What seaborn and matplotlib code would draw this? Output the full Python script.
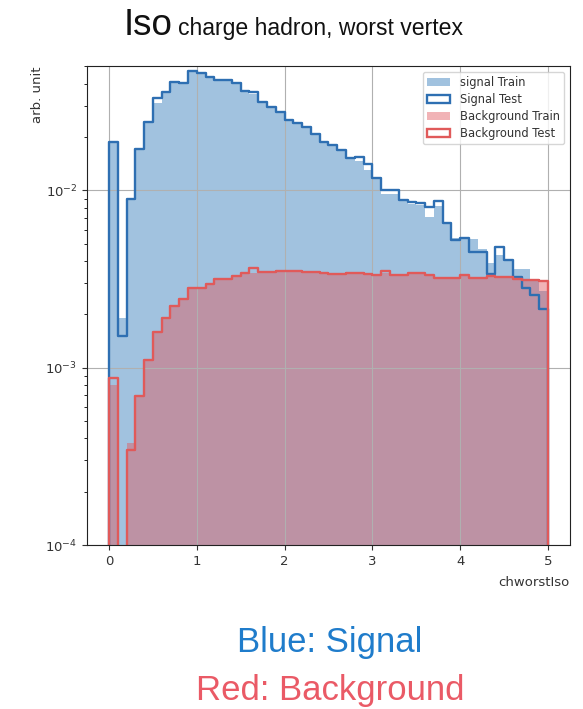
import numpy as np
import pandas as pd
import matplotlib
matplotlib.use("Agg")
import matplotlib.pyplot as plt
import seaborn as sns
from matplotlib.patches import Patch

# ---------------- data (bin heights, bins of width 0.1 from 0 to 5) ----------------
bin_edges = np.linspace(0.0, 5.0, 51)

signal_train = [0.0188, 0.00191, 0.00900, 0.0170, 0.0240, 0.0312, 0.0355, 0.0405, 0.0400, 0.0465,
                0.0455, 0.0432, 0.0420, 0.0412, 0.0398, 0.0362, 0.0350, 0.0318, 0.0294, 0.0276,
                0.0248, 0.0238, 0.0226, 0.0206, 0.0187, 0.0178, 0.0167, 0.0150, 0.0146, 0.0130,
                0.0116, 0.0096, 0.0095, 0.0088, 0.0084, 0.0083, 0.0071, 0.0082, 0.0065, 0.0054,
                0.0053, 0.0053, 0.0047, 0.0039, 0.0043, 0.0040, 0.0036, 0.0036, 0.0031, 0.0027]

signal_test = [0.0188, 0.00151, 0.00896, 0.0171, 0.0244, 0.0331, 0.0360, 0.0407, 0.0402, 0.0473,
               0.0459, 0.0436, 0.0422, 0.0419, 0.0405, 0.0364, 0.0361, 0.0317, 0.0297, 0.0278,
               0.0250, 0.0239, 0.0229, 0.0208, 0.0188, 0.0180, 0.0169, 0.0152, 0.0155, 0.0141,
               0.0117, 0.0101, 0.0101, 0.00884, 0.00865, 0.00850, 0.00810, 0.00876, 0.00653, 0.00526,
               0.00540, 0.00450, 0.00450, 0.00339, 0.00481, 0.00406, 0.00326, 0.00282, 0.00258, 0.00215]

background_train = [0.00080, 0.0, 0.000377, 0.00070, 0.00110, 0.00160, 0.00190, 0.00224, 0.00246, 0.00279,
                    0.00283, 0.00298, 0.00313, 0.00317, 0.00330, 0.00340, 0.00342, 0.00347, 0.00350, 0.00350,
                    0.00353, 0.00350, 0.00347, 0.00347, 0.00343, 0.00341, 0.00338, 0.00340, 0.00340, 0.00338,
                    0.00336, 0.00340, 0.00336, 0.00335, 0.00340, 0.00338, 0.00335, 0.00325, 0.00322, 0.00322,
                    0.00328, 0.00322, 0.00320, 0.00326, 0.00324, 0.00322, 0.00318, 0.00316, 0.00314, 0.00312]

background_test = [0.000875, 0.0, 0.000345, 0.000689, 0.00110, 0.00158, 0.00191, 0.00222, 0.00244, 0.00281,
                   0.00281, 0.00297, 0.00315, 0.00315, 0.00328, 0.00342, 0.00365, 0.00345, 0.00348, 0.00352,
                   0.00352, 0.00352, 0.00345, 0.00348, 0.00344, 0.00339, 0.00339, 0.00342, 0.00342, 0.00339,
                   0.00334, 0.00353, 0.00334, 0.00334, 0.00342, 0.00342, 0.00334, 0.00321, 0.00320, 0.00320,
                   0.00334, 0.00320, 0.00320, 0.00330, 0.00324, 0.00324, 0.00317, 0.00313, 0.00311, 0.00310]

legend_labels = ["signal Train", "Signal Test", "Background Train", "Background Test"]
x_ticks = [0, 1, 2, 3, 4, 5]

# ---------------- styling ----------------
sig_fill = "#2f78b8"
sig_line = "#2e6fb2"
bkg_fill = "#e0585e"
bkg_line = "#e05a5a"
fill_alpha = 0.45

# pad one empty bin on each side so the outlines close down to the axis
width = bin_edges[1] - bin_edges[0]
edges = np.concatenate([[bin_edges[0] - width], bin_edges, [bin_edges[-1] + width]])
centers = 0.5 * (edges[:-1] + edges[1:])
edges_list = [float(e) for e in edges]

def padded(v):
    return np.concatenate([[0.0], np.asarray(v, float), [0.0]])

df = pd.DataFrame({
    "x": centers,
    "signal_train": padded(signal_train),
    "signal_test": padded(signal_test),
    "background_train": padded(background_train),
    "background_test": padded(background_test),
})

fig = plt.figure(figsize=(5.83, 7.09), dpi=100)
ax = fig.add_axes([0.1492, 0.2313, 0.8285, 0.6756])

sns.histplot(data=df, x="x", weights="signal_train", bins=edges_list, element="step",
             fill=True, color=sig_fill, alpha=fill_alpha, linewidth=0, ax=ax)
sns.histplot(data=df, x="x", weights="signal_test", bins=edges_list, element="step",
             fill=False, color=sig_line, linewidth=1.7, ax=ax)
sns.histplot(data=df, x="x", weights="background_train", bins=edges_list, element="step",
             fill=True, color=bkg_fill, alpha=fill_alpha, linewidth=0, ax=ax)
sns.histplot(data=df, x="x", weights="background_test", bins=edges_list, element="step",
             fill=False, color=bkg_line, linewidth=1.7, ax=ax)

ax.set_yscale("log")
ax.set_ylim(1e-4, 0.0503)
ax.set_xlim(-0.25, 5.25)
ax.set_xticks(x_ticks)
ax.grid(True, color="#b0b0b0", linewidth=0.8)
ax.tick_params(labelsize=9.5, colors="#333333", labelcolor="#333333")
for s in ax.spines.values():
    s.set_color("#222222")

ax.set_xlabel("chworstIso", loc="right", fontsize=9.5, color="#333333", labelpad=6)
ax.set_ylabel("arb. unit", loc="top", fontsize=9.5, color="#333333")
ax.yaxis.set_label_coords(-0.09, 1.0)

handles = [
    Patch(facecolor=sig_fill, alpha=fill_alpha, edgecolor="none", label=legend_labels[0]),
    Patch(facecolor="none", edgecolor=sig_line, linewidth=1.7, label=legend_labels[1]),
    Patch(facecolor=bkg_fill, alpha=fill_alpha, edgecolor="none", label=legend_labels[2]),
    Patch(facecolor="none", edgecolor=bkg_line, linewidth=1.7, label=legend_labels[3]),
]
leg = ax.legend(handles=handles, loc="upper right", fontsize=8.3, framealpha=0.8,
                labelspacing=0.33)
for t in leg.get_texts():
    t.set_color("#333333")

# ---------------- title and captions ----------------
title_font = ["Liberation Sans", "DejaVu Sans"]
fig.text(124 / 583, 1 - 35 / 709, "Iso", fontsize=26.5, family=title_font,
         ha="left", va="baseline", color="#111111")
fig.text(178 / 583, 1 - 35.5 / 709, "charge hadron, worst vertex", fontsize=16.6,
         family=title_font, ha="left", va="baseline", color="#111111")

fig.text(330 / 583, 1 - 652 / 709, "Blue: Signal", fontsize=25, family=title_font,
         ha="center", va="baseline", color="#1f7ccb")
fig.text(330 / 583, 1 - 700 / 709, "Red: Background", fontsize=25, family=title_font,
         ha="center", va="baseline", color="#ea5a66")

fig.savefig("out.png", dpi=100)
